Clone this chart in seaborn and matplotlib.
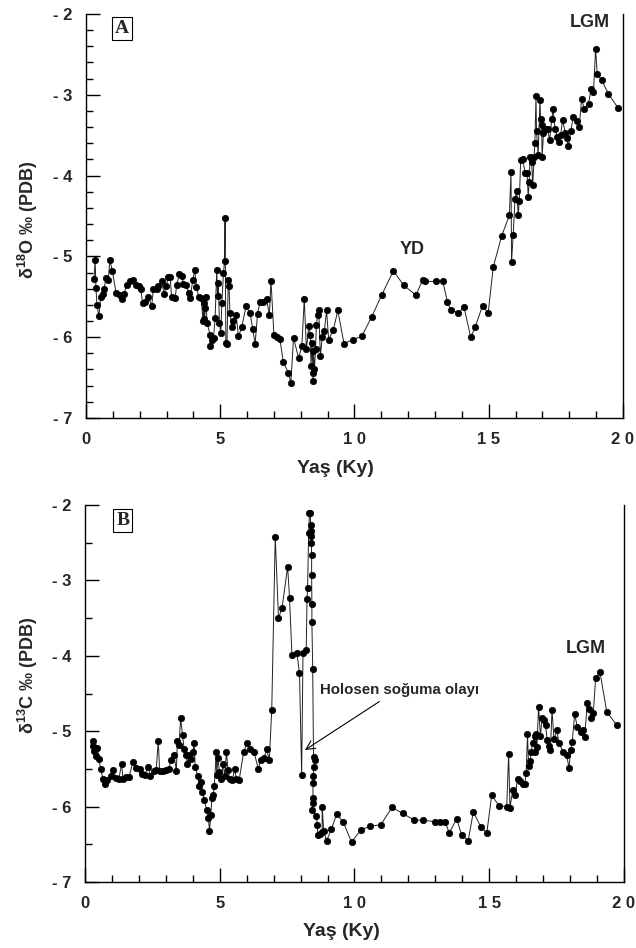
import matplotlib
matplotlib.use("Agg")
import matplotlib.pyplot as plt
import seaborn as sns
import pandas as pd
from matplotlib.ticker import MultipleLocator, FixedLocator

# ---------------- data ----------------
age_o = [0.30, 0.34, 0.37, 0.41, 0.48, 0.55, 0.62, 0.67, 0.74, 0.83, 0.89, 0.98,
         1.12, 1.25, 1.33, 1.41, 1.52, 1.64, 1.74, 1.87, 1.99, 2.04, 2.11, 2.19,
         2.31, 2.45, 2.51, 2.64, 2.70, 2.82, 2.91, 2.98, 3.07, 3.13, 3.19, 3.32,
         3.38, 3.48, 3.57, 3.63, 3.73, 3.82, 3.88, 3.98, 4.05, 4.11, 4.20, 4.29,
         4.36, 4.39, 4.41, 4.45, 4.48, 4.50, 4.63, 4.63, 4.69, 4.75, 4.81, 4.87,
         4.90, 4.93, 4.97, 5.02, 5.06, 5.12, 5.16, 5.18, 5.21, 5.25, 5.30, 5.33,
         5.36, 5.43, 5.49, 5.59, 5.68, 5.80, 5.96, 6.11, 6.21, 6.30, 6.39, 6.48,
         6.60, 6.73, 6.83, 6.89, 7.00, 7.10, 7.22, 7.35, 7.54, 7.63, 7.73, 7.92,
         8.04, 8.13, 8.21, 8.30, 8.36, 8.38, 8.42, 8.45, 8.46, 8.47, 8.51, 8.55,
         8.58, 8.63, 8.67, 8.73, 8.80, 8.88, 8.96, 9.04, 9.21, 9.38, 9.61, 9.93,
         10.27, 10.64, 11.01, 11.45, 11.84, 12.29, 12.54, 12.63, 13.04, 13.29,
         13.46, 13.58, 13.87, 14.08, 14.33, 14.49, 14.77, 14.98, 15.17, 15.48,
         15.77, 15.83, 15.85, 15.91, 15.98, 16.04, 16.10, 16.14, 16.19, 16.27,
         16.35, 16.43, 16.47, 16.51, 16.54, 16.60, 16.64, 16.69, 16.72, 16.76,
         16.78, 16.84, 16.91, 16.93, 16.97, 16.99, 17.04, 17.10, 17.19, 17.27,
         17.35, 17.40, 17.47, 17.56, 17.60, 17.68, 17.75, 17.85, 17.90, 17.97,
         18.06, 18.14, 18.27, 18.37, 18.46, 18.56, 18.72, 18.81, 18.90, 18.98,
         19.04, 19.21, 19.46, 19.83]
d18o = [-5.28, -5.04, -5.39, -5.60, -5.74, -5.50, -5.46, -5.41, -5.27, -5.29, -5.05, -5.18,
        -5.45, -5.48, -5.53, -5.47, -5.35, -5.30, -5.29, -5.35, -5.37, -5.40, -5.58, -5.56,
        -5.50, -5.61, -5.40, -5.40, -5.37, -5.31, -5.47, -5.37, -5.26, -5.25, -5.50, -5.52,
        -5.35, -5.22, -5.24, -5.34, -5.35, -5.45, -5.51, -5.29, -5.17, -5.38, -5.50, -5.52,
        -5.80, -5.58, -5.78, -5.64, -5.50, -5.82, -5.97, -6.11, -6.03, -6.01, -5.76, -5.17,
        -5.49, -5.33, -5.82, -5.95, -5.58, -5.21, -5.06, -4.52, -6.07, -6.09, -5.29, -5.37,
        -5.70, -5.87, -5.80, -5.72, -5.99, -5.88, -5.62, -5.70, -5.90, -6.08, -5.71, -5.57,
        -5.56, -5.53, -5.73, -5.30, -5.97, -6.00, -6.02, -6.31, -6.44, -6.57, -6.01, -6.26,
        -6.11, -5.53, -6.15, -5.86, -5.97, -6.36, -6.07, -6.44, -6.54, -6.17, -6.40, -6.15,
        -5.85, -5.73, -5.67, -6.23, -6.00, -5.92, -5.67, -6.03, -5.91, -5.67, -6.08, -6.03,
        -5.99, -5.75, -5.48, -5.18, -5.36, -5.48, -5.29, -5.31, -5.31, -5.31,
        -5.56, -5.66, -5.70, -5.63, -6.00, -5.88, -5.61, -5.70, -5.13, -4.75,
        -4.49, -3.95, -5.07, -4.74, -4.29, -4.19, -4.49, -4.31, -3.81, -3.79,
        -3.97, -3.97, -4.26, -4.08, -3.77, -3.83, -4.12, -3.77, -3.60, -3.02,
        -3.45, -3.74, -3.06, -3.30, -3.38, -3.77, -3.47, -3.43, -3.43, -3.56,
        -3.30, -3.18, -3.43, -3.52, -3.58, -3.50, -3.31, -3.47, -3.54, -3.63,
        -3.45, -3.28, -3.33, -3.40, -3.05, -3.18, -3.11, -2.93, -2.97, -2.44,
        -2.74, -2.82, -2.99, -3.17]

age_c = [0.28, 0.30, 0.34, 0.40, 0.46, 0.52, 0.58, 0.67, 0.75, 0.83, 0.95, 1.04,
         1.16, 1.26, 1.36, 1.41, 1.51, 1.63, 1.78, 1.90, 2.03, 2.12, 2.22, 2.34,
         2.43, 2.55, 2.64, 2.72, 2.77, 2.89, 3.02, 3.12, 3.18, 3.30, 3.39, 3.43,
         3.49, 3.55, 3.62, 3.68, 3.74, 3.80, 3.86, 3.93, 4.01, 4.05, 4.09, 4.18,
         4.24, 4.30, 4.36, 4.43, 4.51, 4.58, 4.62, 4.67, 4.71, 4.76, 4.80, 4.87,
         4.89, 4.93, 4.99, 5.06, 5.12, 5.19, 5.25, 5.31, 5.37, 5.47, 5.55, 5.62,
         5.72, 5.89, 6.02, 6.14, 6.27, 6.43, 6.52, 6.64, 6.74, 6.84, 6.93, 7.06,
         7.18, 7.31, 7.52, 7.59, 7.68, 7.86, 7.96, 8.04, 8.09, 8.21, 8.24, 8.26,
         8.30, 8.33, 8.36, 8.37, 8.38, 8.39, 8.40, 8.41, 8.41, 8.42, 8.42, 8.45,
         8.48, 8.53, 8.50, 8.46, 8.46, 8.46, 8.46, 8.42, 8.59, 8.62, 8.64, 8.72,
         8.80, 8.80, 8.86, 8.97, 9.14, 9.34, 9.59, 9.89, 10.24, 10.58, 10.98,
         11.39, 11.79, 12.22, 12.55, 12.99, 13.17, 13.36, 13.52, 13.79, 13.98,
         14.22, 14.41, 14.69, 14.91, 15.09, 15.37, 15.65, 15.72, 15.77, 15.87,
         15.96, 16.05, 16.15, 16.25, 16.32, 16.37, 16.42, 16.46, 16.52, 16.55,
         16.62, 16.68, 16.71, 16.75, 16.77, 16.83, 16.90, 16.96, 17.02, 17.09,
         17.15, 17.21, 17.27, 17.33, 17.40, 17.52, 17.58, 17.75, 17.87, 17.96,
         18.02, 18.08, 18.17, 18.27, 18.39, 18.49, 18.54, 18.64, 18.70, 18.79,
         18.86, 18.95, 19.11, 19.36, 19.73]
d13c = [-5.13, -5.19, -5.26, -5.33, -5.22, -5.37, -5.50, -5.63, -5.70, -5.65, -5.59, -5.52,
        -5.62, -5.63, -5.43, -5.64, -5.61, -5.61, -5.41, -5.49, -5.50, -5.57, -5.58, -5.47,
        -5.59, -5.53, -5.52, -5.13, -5.53, -5.53, -5.52, -5.50, -5.38, -5.31, -5.53, -5.13,
        -5.18, -4.83, -5.05, -5.24, -5.31, -5.43, -5.31, -5.37, -5.27, -5.16, -5.47, -5.59,
        -5.72, -5.68, -5.80, -5.91, -6.04, -6.15, -6.32, -6.11, -5.88, -5.84, -5.73, -5.27,
        -5.58, -5.35, -5.54, -5.63, -5.43, -5.59, -5.27, -5.52, -5.63, -5.65, -5.50, -5.63,
        -5.65, -5.27, -5.16, -5.23, -5.27, -5.50, -5.38, -5.36, -5.24, -5.38, -4.72, -2.42,
        -3.50, -3.37, -2.82, -3.23, -3.99, -3.96, -4.23, -5.58, -3.96, -3.92, -3.24, -3.10,
        -2.37, -2.11, -2.11, -2.26, -2.35, -2.41, -2.51, -2.66, -2.93, -3.31, -3.55, -4.17,
        -5.34, -5.38, -5.47, -5.60, -5.69, -5.88, -5.95, -6.04, -6.12, -6.25, -6.37, -6.36,
        -6.34, -6.00, -6.33, -6.45, -6.30, -6.10, -6.21, -6.47, -6.31, -6.26, -6.24,
        -6.01, -6.09, -6.18, -6.18, -6.20, -6.20, -6.20, -6.35, -6.16, -6.38,
        -6.45, -6.07, -6.27, -6.35, -5.85, -5.99, -6.00, -5.30, -6.02, -5.78,
        -5.85, -5.64, -5.66, -5.70, -5.70, -5.55, -5.04, -5.46, -5.39, -5.28,
        -5.15, -5.06, -5.28, -5.04, -5.21, -4.68, -5.06, -4.83, -4.85, -4.92,
        -5.12, -5.19, -5.25, -4.72, -5.10, -4.99, -5.16, -5.27, -5.31, -5.49,
        -5.25, -5.14, -4.77, -4.95, -5.01, -4.98, -5.08, -4.63, -4.70, -4.83,
        -4.76, -4.29, -4.22, -4.74, -4.92]

x_ticks = [0, 5, 10, 15, 20]
x_ticklabels = ["0", "5", "1 0", "1 5", "2 0"]
y_ticks = [-7, -6, -5, -4, -3, -2]
y_ticklabels = ["- 7", "- 6", "- 5", "- 4", "- 3", "- 2"]

df_o = pd.DataFrame({"age": age_o, "val": d18o})
df_c = pd.DataFrame({"age": age_c, "val": d13c})

# ---------------- style ----------------
sns.set_style("white")
plt.rcParams["font.family"] = ["Liberation Sans", "DejaVu Sans"]
plt.rcParams["mathtext.fontset"] = "custom"
plt.rcParams["mathtext.rm"] = "Liberation Sans"
plt.rcParams["mathtext.bf"] = "Liberation Sans:bold"

fig = plt.figure(figsize=(6.36, 9.48), dpi=100)
axA = fig.add_axes([0.1352, 0.5591, 0.8443, 0.4262])
axB = fig.add_axes([0.1336, 0.0696, 0.8475, 0.3977])


def style_axes(ax, df, yminor):
    sns.lineplot(data=df, x="age", y="val", ax=ax, estimator=None, sort=False,
                 color="#222222", linewidth=0.7, marker="o", markersize=4.6,
                 markerfacecolor="black", markeredgecolor="black", markeredgewidth=0.5)
    ax.set_xlim(0, 20)
    ax.set_ylim(-7, -2)
    ax.xaxis.set_major_locator(FixedLocator(x_ticks))
    ax.set_xticklabels(x_ticklabels)
    ax.xaxis.set_minor_locator(MultipleLocator(1))
    ax.yaxis.set_major_locator(FixedLocator(y_ticks))
    ax.set_yticklabels(y_ticklabels)
    ax.yaxis.set_minor_locator(MultipleLocator(yminor))
    ax.tick_params(which="both", direction="in", left=True, bottom=True,
                   right=False, top=False, color="black", width=1.0)
    ax.tick_params(which="major", length=10, pad=10, labelsize=12)
    ax.tick_params(which="minor", length=5)
    for lab in ax.get_xticklabels() + ax.get_yticklabels():
        lab.set_fontweight("bold")
    for s in ["left", "bottom", "right"]:
        ax.spines[s].set_visible(True)
        ax.spines[s].set_color("black")
        ax.spines[s].set_linewidth(1.0)
    ax.spines["top"].set_visible(False)
    ax.set_facecolor("white")


style_axes(axA, df_o, 0.2)
style_axes(axB, df_c, 0.5)

# labels
axA.set_xlabel("Yaş (Ky)", fontsize=14, fontweight="bold")
axB.set_xlabel("Yaş (Ky)", fontsize=14, fontweight="bold")
axA.xaxis.set_label_coords(0.464, -0.105)
axB.xaxis.set_label_coords(0.475, -0.110)
axA.set_ylabel(r"δ$^{\mathbf{18}}$O ‰ (PDB)", fontsize=13, fontweight="bold")
axB.set_ylabel(r"δ$^{\mathbf{13}}$C ‰ (PDB)", fontsize=13, fontweight="bold")
axA.yaxis.set_label_coords(-0.086, 0.49)
axB.yaxis.set_label_coords(-0.084, 0.549)

# panel letters
box = dict(boxstyle="square,pad=0.15", facecolor="white", edgecolor="black", linewidth=0.8)
axA.text(0.067, 0.963, "A", transform=axA.transAxes, ha="center", va="center",
         fontsize=14, fontweight="bold", family=["Liberation Serif", "DejaVu Serif"], bbox=box)
axB.text(0.070, 0.958, "B", transform=axB.transAxes, ha="center", va="center",
         fontsize=14, fontweight="bold", family=["Liberation Serif", "DejaVu Serif"], bbox=box)

# annotations
axA.text(12.14, -4.92, "YD", ha="center", va="center", fontsize=13, fontweight="bold")
axA.text(18.77, -2.11, "LGM", ha="center", va="center", fontsize=13, fontweight="bold")
axB.text(18.59, -3.90, "LGM", ha="center", va="center", fontsize=13, fontweight="bold")
axB.annotate("Holosen soğuma olayı", xy=(8.16, -5.25), xytext=(8.72, -4.45),
             ha="left", va="center", fontsize=10.8, fontweight="bold",
             arrowprops=dict(arrowstyle="->", lw=0.8, color="black",
                             mutation_scale=16, shrinkA=2, shrinkB=0,
                             relpos=(0.42, 0.0)))

fig.savefig("out.png", dpi=100, facecolor="white")
